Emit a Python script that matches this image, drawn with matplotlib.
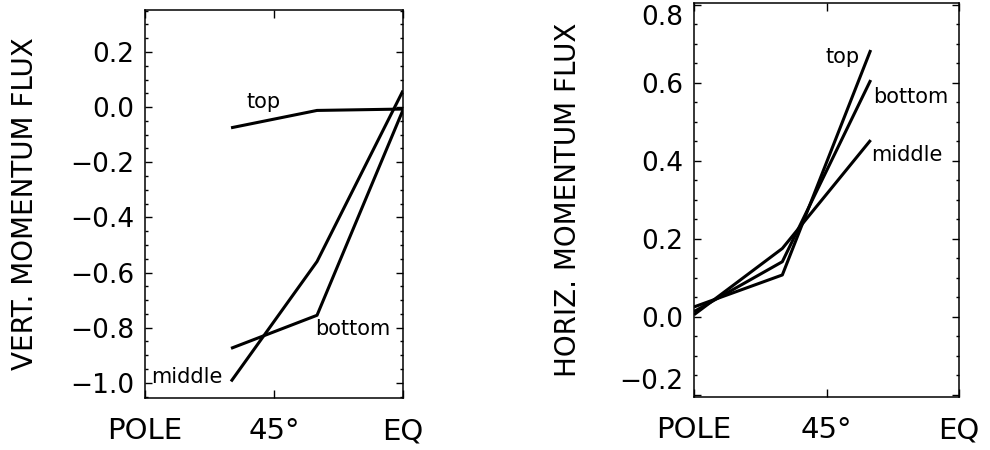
import matplotlib.pyplot as plt
from matplotlib.ticker import MultipleLocator

plt.rcParams["font.family"] = "DejaVu Sans"

# degrees from the pole at which each profile is sampled
vert_x = [30, 60, 90]
horiz_x = [0, 30, 60]

vert_flux = {
    "top": [-0.075, -0.012, -0.007],
    "middle": [-0.995, -0.56, 0.06],
    "bottom": [-0.875, -0.755, -0.01],
}
horiz_flux = {
    "top": [0.025, 0.107, 0.684],
    "middle": [0.005, 0.175, 0.453],
    "bottom": [0.013, 0.141, 0.607],
}

x_ticks = [0, 45, 90]
x_ticklabels = ["POLE", "45°", "EQ"]


def style_axis(ax, ylim, ylabel, label_x):
    ax.set_xlim(0, 90)
    ax.set_ylim(*ylim)
    ax.set_xticks(x_ticks)
    ax.set_xticklabels(x_ticklabels, fontsize=21)
    ax.yaxis.set_major_locator(MultipleLocator(0.2))
    ax.yaxis.set_minor_locator(MultipleLocator(0.05))
    ax.yaxis.set_major_formatter(plt.FuncFormatter(lambda v, p: f"{v:.1f}".replace("-", "\u2212")))
    ax.tick_params(axis="y", which="major", direction="in", length=5, width=1,
                   left=True, right=True, labelsize=19, pad=8)
    ax.tick_params(axis="y", which="minor", direction="in", length=2.5, width=1,
                   left=True, right=True)
    ax.tick_params(axis="x", which="major", direction="in", length=6, width=1,
                   top=True, bottom=True, pad=14)
    for s in ax.spines.values():
        s.set_linewidth(1.1)
    ax.set_ylabel(ylabel, fontsize=20)
    ax.yaxis.set_label_coords(label_x, 0.5)


fig = plt.figure(figsize=(9.9, 4.5), dpi=100)
ax1 = fig.add_axes([0.1465, 0.1156, 0.2606, 0.862])
ax2 = fig.add_axes([0.701, 0.1178, 0.2677, 0.875])

for name, vals in vert_flux.items():
    ax1.plot(vert_x, vals, color="black", lw=2.2, solid_capstyle="butt")
for name, vals in horiz_flux.items():
    ax2.plot(horiz_x, vals, color="black", lw=2.2, solid_capstyle="butt")

style_axis(ax1, (-1.055, 0.352), "VERT. MOMENTUM FLUX", -0.412)
style_axis(ax2, (-0.206, 0.804), "HORIZ. MOMENTUM FLUX", -0.424)

# keep the end labels of the right panel inside the frame
fig.canvas.draw()
for lab in ax2.get_yticklabels():
    txt = lab.get_text()
    if txt == "0.8":
        lab.set_va("top")
    elif txt == "\u22120.2":
        lab.set_va("bottom")

# curve names
ax1.text(41.2, 0.019, "top", fontsize=15, ha="center", va="center")
ax1.text(72.6, -0.803, "bottom", fontsize=15, ha="center", va="center")
ax1.text(14.7, -0.98, "middle", fontsize=15, ha="center", va="center")
ax2.text(50.3, 0.666, "top", fontsize=15, ha="center", va="center")
ax2.text(73.6, 0.563, "bottom", fontsize=15, ha="center", va="center")
ax2.text(72.3, 0.415, "middle", fontsize=15, ha="center", va="center")

fig.savefig("out.png", dpi=100)
